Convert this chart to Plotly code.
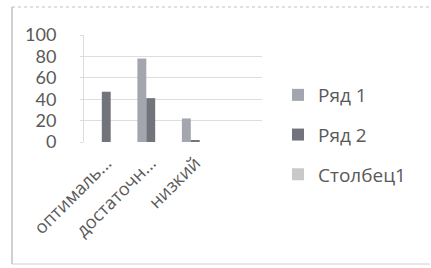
import plotly.graph_objects as go

categories = ["оптималь...", "достаточн...", "низкий", " "]
series_names = ["Ряд 1", "Ряд 2", "Столбец1"]
row1 = [0, 78, 22, None]
row2 = [47, 41, 1, None]
col1 = [None, None, None, None]
y_ticks = [0, 20, 40, 60, 80, 100]

colors = ["#a3a6ae", "#72747c", "#c9c9cc"]

W, H = 431, 268
L, R, T, B = 84, 169, 35, 126
pw, ph = W - L - R, H - T - B

def px_x(x):
    return (x - L) / pw

def px_y(y):
    return 1 - (y - T) / ph

fig = go.Figure()
for name, vals, c in zip(series_names, [row1, row2, col1], colors):
    fig.add_trace(go.Bar(x=categories, y=vals, name=name, marker_color=c,
                         marker_line_width=0, legendgroup=name))

font = "Open Sans, sans-serif"
fig.update_layout(
    width=W, height=H,
    margin=dict(l=L, r=R, t=T, b=B, pad=0, autoexpand=False),
    paper_bgcolor="white", plot_bgcolor="white",
    barmode="group", bargap=0.4, bargroupgap=0,
    font=dict(family=font, color="#5a5a5a"),
    showlegend=True,
    legend=dict(xref="container", yref="container",
                x=278 / W, y=1 - 76 / H, xanchor="left", yanchor="top",
                font=dict(size=19, color="#5a5a5a"), tracegroupgap=12,
                itemwidth=30, bgcolor="rgba(0,0,0,0)", maxheight=300),
    xaxis=dict(type="category", tickangle=-45, tickfont=dict(size=18),
               showgrid=False, showline=False, ticks="", range=[-0.5, 3.5],
               automargin=False, ticklabelstandoff=6),
    yaxis=dict(range=[0, 100], tickvals=y_ticks,
               tickfont=dict(size=18, family="Lato, Open Sans, sans-serif"),
               showgrid=True, gridcolor="#dddddd", gridwidth=1,
               showline=True, linecolor="#dddddd", ticks="outside",
               ticklen=3, tickcolor="#dddddd", ticklabelstandoff=20,
               zeroline=False, automargin=False),
    shapes=[
        dict(type="line", xref="paper", yref="paper", x0=px_x(12), x1=px_x(12),
             y0=px_y(7), y1=px_y(264), line=dict(color="#a0a0a0", width=1)),
        dict(type="line", xref="paper", yref="paper", x0=px_x(12), x1=px_x(430),
             y0=px_y(7), y1=px_y(7), line=dict(color="#c0c0c0", width=1, dash="dot")),
        dict(type="line", xref="paper", yref="paper", x0=px_x(12), x1=px_x(430),
             y0=px_y(264), y1=px_y(264), line=dict(color="#d0d0d0", width=1)),
    ],
)
fig.write_html("out.html", config={"displayModeBar": False},
               post_script="document.body.style.margin='0';document.body.style.overflow='hidden';")
